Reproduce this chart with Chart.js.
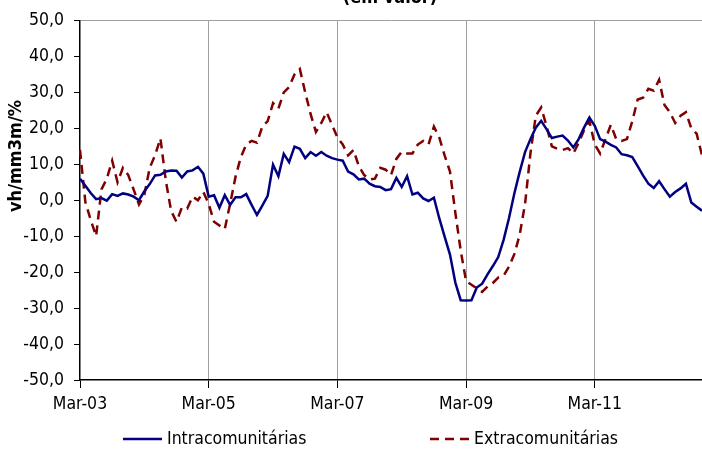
<!DOCTYPE html>
<html>
<head>
<meta charset="utf-8">
<script src="https://cdn.jsdelivr.net/npm/chart.js@4.4.0/dist/chart.umd.min.js"></script>
<style>
  html, body { margin: 0; padding: 0; background: #fff; overflow: hidden; }
</style>
</head>
<body>
<canvas id="grafico" width="702" height="450"></canvas>
<script>
// Exportações - taxa de variação homóloga, média móvel 3 meses (em valor)
const FONTE = "'DejaVu Sans Condensed', 'DejaVu Sans', sans-serif";

// Meses de Mar-03 a Nov-12
const nomesMeses = ['Jan', 'Fev', 'Mar', 'Abr', 'Mai', 'Jun', 'Jul', 'Ago', 'Set', 'Out', 'Nov', 'Dez'];
const meses = [];
for (let i = 0; i < 117; i++) {
    const m = (2 + i) % 12;
    const a = 3 + Math.floor((2 + i) / 12);
    meses.push(nomesMeses[m] + '-' + String(a).padStart(2, '0'));
}

const intracomunitarias = [
    6.0, 4.0, 2.0, 0.3, 0.6, -0.1, 1.7, 1.2, 1.9, 1.6, 1.0, 0.0,
    2.5, 4.5, 6.9, 7.1, 8.0, 8.3, 8.2, 6.3, 8.0, 8.3, 9.3, 7.4,
    1.0, 1.4, -2.1, 1.4, -1.3, 0.8, 0.8, 1.7, -1.3, -4.1, -1.5, 1.2,
    9.9, 6.7, 12.9, 10.6, 14.9, 14.3, 11.7, 13.4, 12.4, 13.4, 12.4, 11.7,
    11.3, 11.0, 8.0, 7.2, 5.8, 6.0, 4.6, 3.9, 3.7, 2.8, 3.1, 6.2,
    3.7, 6.7, 1.6, 2.1, 0.5, -0.2, 0.7, -5.0, -10.1, -15.1, -22.9, -27.8,
    -27.9, -27.8, -24.3, -23.2, -20.6, -18.3, -15.8, -11.0, -5.0, 1.9, 7.9, 13.4,
    17.0, 20.2, 22.1, 19.8, 17.3, 17.7, 18.0, 16.6, 14.7, 17.0, 20.2, 23.0,
    20.7, 17.0, 16.3, 15.4, 14.7, 12.8, 12.5, 12.0, 9.5, 6.9, 4.6, 3.4,
    5.3, 3.1, 1.0, 2.3, 3.3, 4.6, -0.6, -1.8, -2.9
];

const extracomunitarias = [
    14.0, -0.5, -5.5, -10.0, 3.0, 6.0, 11.0, 5.0, 9.0, 7.0, 3.0, -1.2,
    1.5, 9.0, 12.5, 17.2, 5.5, -3.0, -6.0, -2.0, -2.3, 1.0, 0.0, 2.3,
    -1.0, -6.0, -7.0, -8.0, -1.0, 6.5, 12.0, 15.5, 16.5, 16.0, 20.5, 22.0,
    27.0, 25.5, 30.0, 31.5, 35.0, 36.5, 30.0, 24.0, 19.0, 21.5, 24.5, 21.0,
    17.5, 15.5, 12.5, 14.0, 9.5, 7.0, 5.8, 6.0, 9.0, 8.5, 7.0, 11.5,
    13.5, 13.0, 13.0, 15.5, 16.5, 15.5, 20.5, 17.5, 12.5, 8.0, -3.5, -14.0,
    -22.5, -23.5, -24.5, -25.5, -24.0, -23.0, -21.5, -21.0, -18.5, -15.0, -9.6, -1.0,
    13.0, 23.5, 25.8, 20.7, 15.0, 14.3, 14.0, 14.5, 13.0, 16.0, 19.5, 22.0,
    15.5, 13.0, 17.0, 21.0, 17.0, 16.5, 17.0, 22.0, 28.0, 28.5, 31.0, 30.5,
    33.5, 26.5, 24.5, 21.5, 23.5, 24.5, 20.0, 18.5, 12.5
];

const titulo = '(em valor)';
const tituloEixoY = 'vh/mm3m/%';

// Títulos e legenda desenhados à mão
const textosPlugin = {
    id: 'textos',
    afterDraw(chart) {
        const ctx = chart.ctx;
        ctx.save();
        ctx.fillStyle = '#000';
        ctx.font = 'bold 18px ' + FONTE;
        ctx.textAlign = 'center';
        ctx.textBaseline = 'alphabetic';
        ctx.fillText(titulo, 390, 3);

        ctx.translate(16, 156);
        ctx.rotate(-Math.PI / 2);
        ctx.textBaseline = 'middle';
        ctx.fillText(tituloEixoY, 0, 0);
        ctx.restore();

        const posicoes = [123, 430];
        chart.data.datasets.forEach((ds, i) => {
            const x = posicoes[i], y = 439;
            ctx.save();
            ctx.strokeStyle = ds.borderColor;
            ctx.lineWidth = ds.borderWidth;
            ctx.setLineDash(ds.borderDash || []);
            ctx.beginPath();
            ctx.moveTo(x, y);
            ctx.lineTo(x + 39, y);
            ctx.stroke();
            ctx.setLineDash([]);
            ctx.fillStyle = '#000';
            ctx.font = '17.5px ' + FONTE;
            ctx.textBaseline = 'middle';
            ctx.fillText(ds.label, x + 44, y);
            ctx.restore();
        });
    }
};

const ctx = document.getElementById('grafico').getContext('2d');
const grafico = new Chart(ctx, {
    type: 'line',
    data: {
        labels: meses,
        datasets: [{
            label: 'Intracomunitárias',
            data: intracomunitarias,
            borderColor: '#000080',
            borderWidth: 2.5,
            pointRadius: 0,
            tension: 0,
            fill: false
        }, {
            label: 'Extracomunitárias',
            data: extracomunitarias,
            borderColor: '#800000',
            borderWidth: 2.5,
            borderDash: [9, 6],
            pointRadius: 0,
            tension: 0,
            fill: false
        }]
    },
    options: {
        responsive: false,
        animation: false,
        layout: { padding: { left: 0, right: 0, top: 17, bottom: 0 } },
        plugins: {
            legend: { display: false },
            tooltip: { enabled: false }
        },
        scales: {
            x: {
                offset: false,
                afterBuildTicks: s => { s.ticks = s.ticks.filter(t => t.value % 24 === 0); },
                afterFit: s => { s.height = 70; },
                grid: {
                    color: c => c.index > 0 ? '#a0a0a0' : 'rgba(0,0,0,0)',
                    tickColor: '#000',
                    tickLength: 8
                },
                border: { color: '#000', width: 1.5 },
                ticks: {
                    autoSkip: false,
                    maxRotation: 0,
                    minRotation: 0,
                    padding: 6,
                    color: '#000',
                    font: { family: FONTE, size: 17.5 }
                }
            },
            y: {
                min: -50,
                max: 50,
                afterFit: s => { s.width = 80; },
                grid: {
                    color: c => c.tick && c.tick.value === 50 ? '#a0a0a0' : 'rgba(0,0,0,0)',
                    tickColor: '#000',
                    tickLength: 6
                },
                border: { color: '#000', width: 1.5 },
                ticks: {
                    stepSize: 10,
                    padding: 10,
                    color: '#000',
                    font: { family: FONTE, size: 17.5 },
                    callback: v => v.toFixed(1).replace('.', ',')
                }
            }
        }
    },
    plugins: [textosPlugin]
});
</script>
</body>
</html>
